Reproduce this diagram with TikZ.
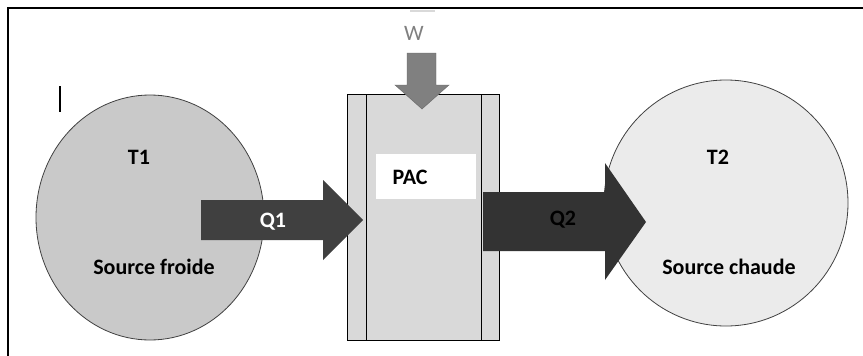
\documentclass[tikz,border=0pt]{standalone}
\usepackage{fontspec}
\setmainfont{Carlito}
\usetikzlibrary{shapes.geometric}
\begin{document}
\begin{tikzpicture}[x=1pt,y=-1pt,
  lbl/.style={font=\fontsize{22}{26}\selectfont\bfseries, inner sep=0pt},
  edge/.style={draw=black!75, line width=0.8pt}]
\useasboundingbox (0,0) rectangle (863,356);
% frame
\draw[line width=1.5pt] (8,356) -- (8,8) -- (863,8);
\draw[black!15, line width=1.2pt] (410,11) -- (435,11);
% small bar
\draw[line width=1.5pt] (60,86) -- (60,112);
% ellipses
\node[edge, fill=black!21, ellipse, minimum width=228pt, minimum height=245pt, inner sep=0pt, draw] (cold) at (150,217.5) {};
\node[edge, fill=black!8, ellipse, minimum width=244pt, minimum height=246pt, inner sep=0pt, draw] (hot) at (726,203) {};
% PAC box
\node[draw=black, line width=0.8pt, fill=black!15, minimum width=152pt, minimum height=246pt, inner sep=0pt, anchor=north west] (pac) at (347,94) {};
\draw[line width=0.8pt] (366.5,94) -- (366.5,340);
\draw[line width=0.8pt] (481,94) -- (481,340);
\node[fill=white, minimum width=100pt, minimum height=45pt, inner sep=0pt, anchor=north west] (pacbox) at (376,154) {};
\node[lbl] (pactext) at (410,177) {PAC};
% W arrow
\fill[black!50, draw=black!60, line width=0.4pt] (407,53) -- (436,53) -- (436,85) -- (449,85) -- (422,109) -- (395,85) -- (407,85) -- cycle;
\node[lbl, font=\fontsize{22}{26}\selectfont, text=black!50] (w) at (414,33) {W};
% Q1 arrow
\fill[black!75] (201,200) -- (323,200) -- (323,180) -- (363,220) -- (323,260) -- (323,240) -- (201,240) -- cycle;
\node[lbl, text=white] (q1) at (273,222) {Q1};
% Q2 arrow
\fill[black!80] (483,192) -- (605,192) -- (605,163) -- (646,222) -- (605,280) -- (605,251) -- (483,251) -- cycle;
\node[lbl] (q2) at (563,220) {Q2};
% labels
\node[lbl] (t1) at (139,157) {T1};
\node[lbl] (sf) at (154,267) {Source froide};
\node[lbl] (t2) at (718,157) {T2};
\node[lbl] (sc) at (729,267) {Source chaude};
\end{tikzpicture}
\end{document}
